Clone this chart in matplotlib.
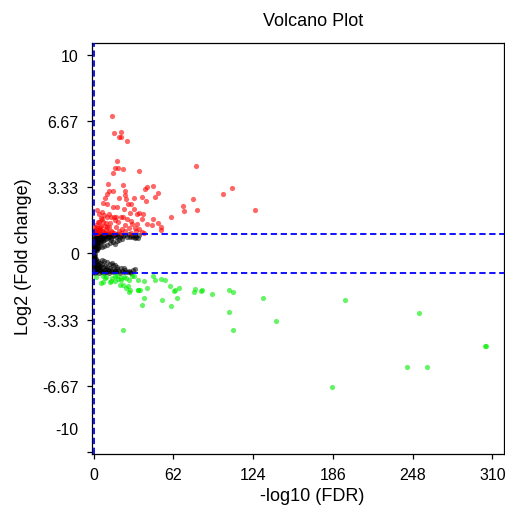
#!/usr/bin/env python3

#==============================================================================
# volcano plot : log2 fold change against -log10 fdr
#==============================================================================

import matplotlib
matplotlib.use('Agg')
import matplotlib.pyplot as plt

plt.rcParams['font.family'] = ['Liberation Sans', 'DejaVu Sans']

#==============================================================================
# data
#==============================================================================

# up regulated genes (red)
UpX = [14.5, 15.8, 21.0, 19.9, 21.0, 26.2, 17.9, 16.8, 18.9, 23.0,
       14.8, 35.2, 79.6, 11.6, 23.0, 12.2, 14.8, 24.6, 40.2, 41.7,
       45.9, 107.6, 100.3, 50.5, 37.6, 47.4, 9.0, 24.1, 31.3, 19.9,
       77.5, 25.1, 7.5, 10.6, 26.7, 28.8, 40.7, 69.2, 70.5, 80.6,
       125.2, 15.3, 18.4, 23.6, 31.3, 35.0, 33.4, 28.2, 38.6, 8.0,
       12.2, 10.6, 15.8, 17.3, 21.0, 23.0, 13.7, 59.9, 6.5, 16.3,
       26.2, 37.6, 46.4, 28.8, 29.8, 33.9, 9.6, 12.7, 18.9, 24.1,
       4.9, 10.6, 17.3, 22.5, 27.2, 41.2, 45.3, 50.5, 52.1, 52.1,
       32.4, 35.5, 4.4, 7.5, 13.2, 19.9, 24.6, 8.5, 15.8, 21.5,
       29.3, 32.9, 37.6, 39.6, 10.6, 2.0, 2.5, 3.1, 3.5, 1.5,
       5.5, 6.0, 4.0, 2.8, 6.8, 3.8, 5.0, 7.2, 8.8, 9.5,
       11.0, 12.0, 1.2, 2.2, 4.6, 1.8, 3.0, 6.3, 0.9, 14.0]
UpY = [6.92, 6.07, 6.10, 5.87, 5.87, 5.67, 4.66, 4.31, 4.30, 4.26,
       4.06, 4.13, 4.40, 3.48, 3.46, 3.16, 3.14, 3.13, 3.23, 3.33,
       3.39, 3.28, 2.99, 3.06, 2.86, 2.86, 2.79, 2.93, 2.81, 2.79,
       2.72, 2.72, 2.52, 2.49, 2.49, 2.49, 2.66, 2.39, 2.12, 2.19,
       2.19, 2.32, 2.36, 2.26, 2.26, 2.06, 1.99, 2.06, 1.99, 1.96,
       1.99, 1.82, 1.85, 1.82, 1.82, 1.82, 1.82, 1.85, 1.72, 1.69,
       1.75, 1.72, 1.72, 1.62, 1.49, 1.49, 1.55, 1.52, 1.59, 1.42,
       1.35, 1.32, 1.32, 1.25, 1.29, 1.49, 1.45, 1.52, 1.32, 1.19,
       1.29, 1.25, 1.19, 1.15, 1.15, 1.15, 1.12, 1.02, 1.02, 1.02,
       1.05, 1.15, 1.09, 1.05, 2.99, 1.10, 1.30, 1.60, 1.20, 1.05,
       1.80, 1.40, 2.00, 2.20, 2.10, 1.05, 1.25, 1.60, 1.40, 1.20,
       1.10, 1.35, 1.20, 1.45, 1.60, 1.08, 1.02, 1.12, 1.35, 1.08]

# down regulated genes (green)
DownX = [7.5, 12.7, 16.8, 21.0, 23.6, 25.6, 27.7, 34.5, 39.6, 45.9,
         47.9, 52.1, 55.7, 59.3, 62.5, 63.5, 66.6, 23.0, 25.6, 27.2,
         34.5, 36.5, 41.7, 39.6, 37.6, 53.1, 60.4, 64.5, 78.0, 79.0,
         83.2, 84.2, 92.0, 105.5, 108.1, 131.4, 105.5, 141.8, 23.0, 108.6,
         9.0, 14.2, 18.9, 17.9, 29.8, 31.3, 195.4, 253.2, 304.3, 305.1,
         243.9, 259.4, 185.1, 7.2, 5.9, 13.7, 9.8, 21.5, 20.2, 26.7,
         28.0, 16.3, 34.5, 2.0]
DownY = [-1.44, -1.44, -1.41, -1.32, -1.21, -1.24, -1.32, -1.36, -1.41, -1.16,
         -1.36, -1.27, -1.36, -1.66, -1.91, -1.86, -1.72, -1.61, -1.74, -1.93,
         -1.86, -1.86, -1.72, -2.26, -2.59, -2.33, -2.66, -2.26, -1.93, -1.81,
         -1.91, -1.86, -2.06, -1.86, -1.93, -2.26, -2.93, -3.40, -3.87, -3.87,
         -1.24, -1.22, -1.27, -1.16, -1.16, -1.12, -2.33, -3.00, -4.65, -4.67,
         -5.72, -5.72, -6.71, -1.15, -1.49, -1.41, -1.19, -1.24, -1.57, -1.66,
         -1.83, -1.15, -1.83, -1.19]

# not significant (black)
NsX = [0.3, 0.5, 0.4, 0.6, 0.8, 0.5, 0.9, 1.1, 1.3, 1.2,
       1.5, 1.4, 1.7, 1.9, 2.1, 2.3, 2.0, 2.6, 2.8, 3.0,
       3.2, 3.4, 3.7, 3.9, 4.1, 4.4, 4.7, 5.0, 5.3, 5.6,
       6.0, 6.3, 6.7, 7.1, 7.5, 7.9, 8.4, 8.8, 9.3, 9.8,
       10.4, 11.0, 11.7, 12.3, 13.0, 13.8, 14.6, 15.4, 16.3, 17.2,
       18.0, 19.1, 20.3, 21.5, 23.0, 24.6, 26.0, 27.8, 29.5, 31.0,
       32.5, 34.2, 35.5, 0.2, 0.7, 1.0, 1.6, 2.4, 3.5, 4.3,
       28.0, 31.9, 33.2, 0.1, 0.35, 0.9, 1.8, 2.7, 5.8, 7.8,
       10.5, 12.5, 15.0, 18.0, 20.0, 22.5, 8.0, 6.5, 13.5, 17.0,
       0.2, 0.4, 0.3, 0.6, 0.8, 0.5, 0.9, 1.1, 1.3, 1.5,
       1.2, 1.7, 1.9, 2.2, 2.5, 2.3, 2.8, 3.0, 3.3, 3.6,
       3.9, 4.2, 4.6, 5.0, 5.4, 5.8, 6.2, 6.7, 7.2, 7.7,
       8.2, 8.8, 9.4, 10.0, 10.7, 11.4, 12.1, 12.9, 13.7, 14.6,
       15.5, 16.4, 17.4, 18.5, 19.6, 20.8, 22.0, 23.3, 24.7, 26.1,
       27.5, 29.0, 30.5, 31.9, 28.3, 0.15, 0.7, 1.0, 2.0, 3.1,
       4.5, 6.0, 9.0, 11.8, 16.9, 0.1, 0.45, 1.4,
       10.5, 12.5, 15.0, 18.0, 21.0, 8.0, 6.5, 24.0, 14.0, 17.0]
NsY = [0.08, 0.15, 0.30, 0.45, 0.60, 0.75, 0.90, 0.20, 0.35, 0.55,
       0.70, 0.85, 0.98, 0.25, 0.40, 0.62, 0.80, 0.95, 0.30, 0.50,
       0.72, 0.88, 0.45, 0.60, 0.78, 0.93, 0.52, 0.68, 0.85, 0.97,
       0.58, 0.74, 0.90, 0.63, 0.80, 0.95, 0.70, 0.86, 0.98, 0.74,
       0.90, 0.80, 0.96, 0.84, 0.92, 0.80, 0.95, 0.86, 0.93, 0.82,
       0.97, 0.90, 0.84, 0.95, 0.88, 0.94, 0.85, 0.97, 0.90, 0.82,
       0.93, 0.78, 0.95, 0.50, 0.20, 0.42, 0.15, 0.18, 0.28, 0.35,
       0.82, 0.77, 0.84, 0.65, 0.60, 0.70, 0.55, 0.66, 0.82, 0.88,
       0.45, 0.55, 0.60, 0.65, 0.70, 0.75, 0.40, 0.35, 0.68, 0.50,
       -0.10, -0.25, -0.40, -0.55, -0.70, -0.85, -0.97, -0.18, -0.32, -0.50,
       -0.66, -0.80, -0.92, -0.28, -0.45, -0.60, -0.75, -0.90, -0.38, -0.55,
       -0.70, -0.85, -0.98, -0.48, -0.62, -0.78, -0.92, -0.55, -0.70, -0.86,
       -0.97, -0.64, -0.80, -0.92, -0.70, -0.85, -0.96, -0.75, -0.90, -0.80,
       -0.95, -0.84, -0.92, -0.78, -0.90, -0.98, -0.86, -0.93, -0.82, -0.95,
       -0.88, -0.96, -0.84, -0.77, -0.91, -0.65, -0.35, -0.05, -0.72, -0.66,
       -0.75, -0.88, -0.83, -0.90, -0.87, -0.30, -0.15, -0.88,
       -0.45, -0.55, -0.60, -0.68, -0.72, -0.40, -0.35, -0.75, -0.50, -0.58]

Threshold = 1.0

XTicks = [0, 62, 124, 186, 248, 310]
YTicks = [10, 6.67, 3.33, 0, -3.33, -6.67, -10]
YTickLabels = ['10', '6.67', '3.33', '0', '-3.33', '-6.67', '']

#==============================================================================
# draw
#==============================================================================

fig = plt.figure(figsize=(5.06, 5.06), dpi=100)
ax = fig.add_axes([92/506, 1 - 455/506, 412.5/506, 411/506])

ax.scatter(NsX, NsY, s=14, c='black', alpha=0.55, linewidths=0, zorder=2)
ax.scatter(UpX, UpY, s=14, c='#ff0000', alpha=0.6, linewidths=0, zorder=2)
ax.scatter(DownX, DownY, s=14, c='#00ee00', alpha=0.6, linewidths=0, zorder=2)

DashStyle = dict(color='#0000ff', linestyle=(0, (3.5, 2)), linewidth=1.3, zorder=3)
ax.axhline(Threshold, **DashStyle)
ax.axhline(-Threshold, **DashStyle)
ax.axvline(0, **DashStyle)

ax.set_xlim(-1.2, 319.5)
ax.set_ylim(-10.1, 10.6)
ax.set_xticks(XTicks)
ax.set_yticks(YTicks)
ax.set_yticklabels(YTickLabels)
ax.tick_params(direction='out', length=3.5, width=0.9, labelsize=11.5, pad=6)

# the -10 label sits above its tick in the reference
ax.annotate('-10', xy=(0, -10), xycoords=('axes fraction', 'data'),
            xytext=(-9.5, 16.5), textcoords='offset points',
            ha='right', va='center', fontsize=11.5)

for Spine in ax.spines.values():
  Spine.set_linewidth(0.9)

ax.set_title('Volcano Plot', fontsize=13, x=0.537, y=1.044, pad=0)
ax.set_xlabel('-log10 (FDR)', fontsize=13)
ax.set_ylabel('Log2 (Fold change)', fontsize=13)
ax.xaxis.set_label_coords(0.533, -0.080)
ax.yaxis.set_label_coords(-0.146, 0.482)

fig.savefig('out.png', dpi=100)
